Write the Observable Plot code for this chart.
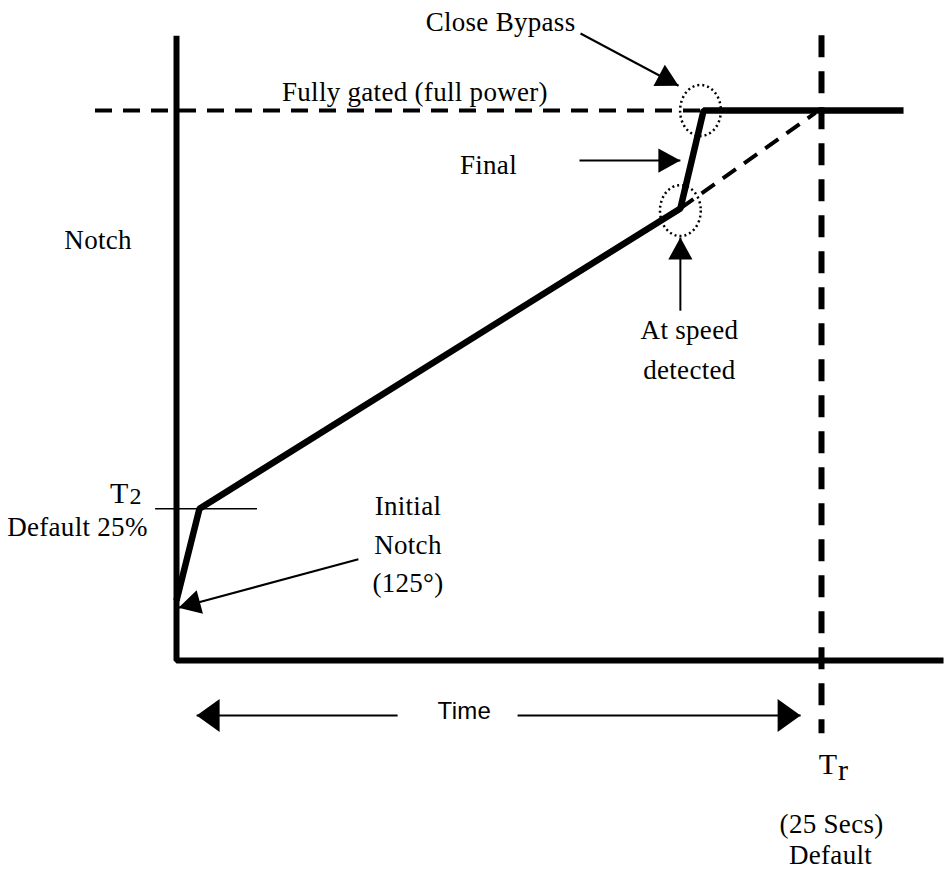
<!DOCTYPE html>
<html>
<head>
<meta charset="utf-8">
<script src="https://cdn.jsdelivr.net/npm/d3@7"></script>
<script src="https://cdn.jsdelivr.net/npm/@observablehq/plot@0.6"></script>
<style>
  html, body { margin: 0; padding: 0; background: #fff; }
  #chart svg { display: block; }
  #chart svg text { letter-spacing: 0.3px; }
</style>
</head>
<body>
<div id="chart"></div>
<script>
// ---------- data (time in seconds, notch in % of full power) ----------
const notchTime  = [0, 0.89, 19.53, 20.43, 28.18];
const notchLevel = [10.9, 27.6, 82.2, 100, 100];

const fullPower = 100;          // "Fully gated" level
const trTime = 25;              // Tr default, 25 secs
const t2Level = 27.6;           // T2 level
const speedDetected = [19.53, 82.2];   // at speed detected point
const bypassClose   = [20.43, 100];    // close bypass point
const projectedEnd  = [24.77, 99.6];   // dashed projection towards Tr

const axisTop = 113.6, axisRight = 29.73;
const fullDashStart = -3.14, trDashBottom = -13.3;
const t2TickRange = [-0.81, 3.14];

// arrows: from (x1,y1) to tip (x2,y2)
const arrows = [
  {x1: 15.66, y1: 114.0, x2: 19.46, y2: 104.5, head: "small"}, // Close Bypass
  {x1: 15.62, y1: 90.9,  x2: 19.53, y2: 90.9,  head: "small"}, // Final
  {x1: 19.53, y1: 63.6,  x2: 19.53, y2: 76.9,  head: "small"}, // At speed detected
  {x1: 7.05,  y1: 18.4,  x2: 0.08,  y2: 9.6,   head: "small"}, // Initial notch
  {x1: 8.57,  y1: -10,   x2: 0.78,  y2: -10,   head: "wide"},  // Time (left)
  {x1: 13.22, y1: -10,   x2: 24.19, y2: -10,   head: "wide"}   // Time (right)
];

const serifLabels = [
  {t: 12.56, n: 116.05, s: "Close Bypass"},
  {t: 9.24,  n: 103.3,  s: "Fully gated (full power)"},
  {t: 12.09, n: 90.05,  s: "Final"},
  {t: -3.04, n: 76.4,   s: "Notch"},
  {t: 19.88, n: 60.05,  s: "At speed"},
  {t: 19.88, n: 52.8,   s: "detected"},
  {t: 8.97,  n: 28.05,  s: "Initial"},
  {t: 8.97,  n: 20.96,  s: "Notch"},
  {t: 8.97,  n: 14.05,  s: "(125°)"},
  {t: -3.84, n: 24.24,  s: "Default 25%"},
  {t: 25.39, n: -29.76, s: "(25 Secs)"},
  {t: 25.35, n: -35.4,  s: "Default"}
];
const symbolMain = [
  {t: -1.86, n: 30.3,  s: "T"},
  {t: 25.62, n: -18.8, s: "T"}
];
const symbolSub = [
  {t: -1.82, n: 29.9,  s: "2", size: 24},
  {t: 25.64, n: -19.9, s: "r", size: 30}
];
const timeLabel = [{t: 11.16, n: -9.15, s: "Time"}];

const markedPoints = [
  {t: bypassClose[0] - 0.12, n: bypassClose[1]},
  {t: speedDetected[0], n: speedDetected[1] - 0.4}
];

// ---------- scales ----------
const W = 950, H = 869;
const xDomain = [-6.822, 30.0];
const yDomain = [-38, 120];
const X = d3.scaleLinear(xDomain, [0, W]);
const Y = d3.scaleLinear(yDomain, [H, 0]);

// ---------- shapes ----------
function arrowHead(ratio) {
  // tip at origin, pointing up; r = sqrt(size/pi)
  return {
    draw(ctx, size) {
      const r = Math.sqrt(size / Math.PI);
      const L = 2 * r, w = ratio * L;
      ctx.moveTo(0, 0);
      ctx.lineTo(w, L);
      ctx.lineTo(-w, L);
      ctx.closePath();
    }
  };
}
const ellipse = {
  draw(ctx, size) {
    const ry = Math.sqrt(size / Math.PI), rx = 0.8 * ry, k = 0.5523;
    ctx.moveTo(rx, 0);
    ctx.bezierCurveTo(rx, k * ry, k * rx, ry, 0, ry);
    ctx.bezierCurveTo(-k * rx, ry, -rx, k * ry, -rx, 0);
    ctx.bezierCurveTo(-rx, -k * ry, -k * rx, -ry, 0, -ry);
    ctx.bezierCurveTo(k * rx, -ry, rx, -k * ry, rx, 0);
    ctx.closePath();
  }
};

const heads = arrows.map(a => {
  const dx = X(a.x2) - X(a.x1), dy = Y(a.y2) - Y(a.y1);
  return {x: a.x2, y: a.y2, rotate: Math.atan2(dy, dx) * 180 / Math.PI + 90, head: a.head};
});

const notchPoints = notchTime.map((t, i) => ({t, n: notchLevel[i]}));
const axisPoints = [{t: 0, n: axisTop}, {t: 0, n: 0}, {t: axisRight, n: 0}];

const serif = "'Liberation Serif', 'Times New Roman', serif";

const chart = Plot.plot({
  width: W,
  height: H,
  margin: 0,
  x: {domain: xDomain, axis: null},
  y: {domain: yDomain, axis: null},
  style: {background: "#fff", color: "#000"},
  marks: [
    // full power dashed reference
    Plot.ruleY([fullPower], {x1: fullDashStart, x2: bypassClose[0], stroke: "#000", strokeWidth: 4, strokeDasharray: "17,11"}),
    // projected dashed slope
    Plot.link([0], {x1: speedDetected[0], y1: speedDetected[1], x2: projectedEnd[0], y2: projectedEnd[1], stroke: "#000", strokeWidth: 4, strokeDasharray: "16,10"}),
    // Tr dashed vertical
    Plot.ruleX([trTime], {y1: axisTop, y2: trDashBottom, stroke: "#000", strokeWidth: 6, strokeDasharray: "22,14"}),
    // axes
    Plot.line(axisPoints, {x: "t", y: "n", stroke: "#000", strokeWidth: 6, strokeLinejoin: "miter", strokeLinecap: "butt"}),
    // T2 tick
    Plot.ruleY([t2Level], {x1: t2TickRange[0], x2: t2TickRange[1], stroke: "#000", strokeWidth: 1.5}),
    // notch profile
    Plot.line(notchPoints, {x: "t", y: "n", stroke: "#000", strokeWidth: 6.5, strokeLinejoin: "miter", strokeLinecap: "butt"}),
    // dotted circles
    Plot.dot(markedPoints, {x: "t", y: "n", r: 25.5, symbol: ellipse, fill: "none", stroke: "#000", strokeWidth: 2.5, strokeDasharray: "2,3"}),
    // arrow shafts
    Plot.link(arrows, {x1: "x1", y1: "y1", x2: "x2", y2: "y2", stroke: "#000", strokeWidth: 2}),
    // arrow heads
    Plot.dot(heads.filter(d => d.head === "small"), {x: "x", y: "y", rotate: "rotate", r: 11, symbol: arrowHead(0.55), fill: "#000", stroke: "none"}),
    Plot.dot(heads.filter(d => d.head === "wide"), {x: "x", y: "y", rotate: "rotate", r: 11.5, symbol: arrowHead(0.72), fill: "#000", stroke: "none"}),
    // labels
    Plot.text(serifLabels, {x: "t", y: "n", text: "s", fontFamily: serif, fontSize: 27, textAnchor: "middle", fill: "#000"}),
    Plot.text(symbolMain, {x: "t", y: "n", text: "s", fontFamily: serif, fontSize: 30, textAnchor: "end", fill: "#000"}),
    Plot.text(symbolSub, {x: "t", y: "n", text: "s", fontFamily: serif, fontSize: "size", textAnchor: "start", fill: "#000"}),
    Plot.text(timeLabel, {x: "t", y: "n", text: "s", fontFamily: "'Liberation Sans', Arial, sans-serif", fontSize: 24, textAnchor: "middle", fill: "#000"})
  ]
});
document.getElementById("chart").append(chart);
</script>
</body>
</html>
